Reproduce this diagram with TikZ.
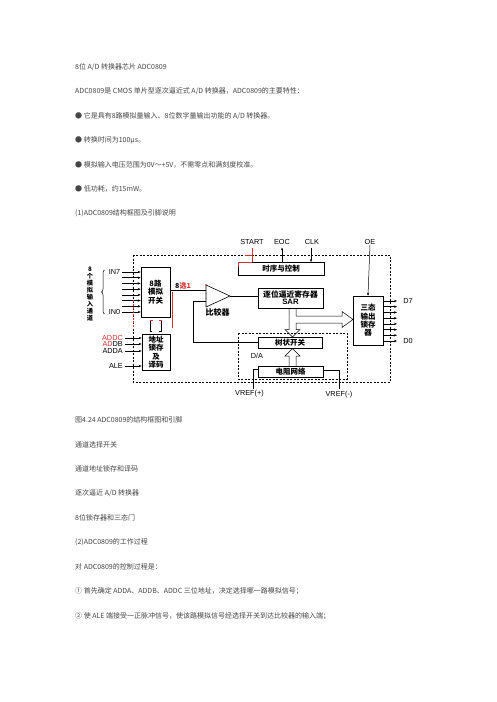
\documentclass[tikz,border=0pt]{standalone}
\usepackage{fontspec}
\setmainfont{Noto Sans CJK SC}
\newfontfamily\lsans{Liberation Sans}
\usetikzlibrary{arrows.meta,decorations.pathreplacing}
\definecolor{txt}{RGB}{70,70,70}
\definecolor{ann}{RGB}{215,50,50}
\begin{document}
\begin{tikzpicture}[x=1pt,y=-1pt,
  body/.style={anchor=west,inner sep=0,font=\fontsize{7}{8}\selectfont,text=txt},
  box/.style={draw,line width=0.6pt,inner sep=0,align=center,font=\fontsize{7.5}{8.3}\selectfont\bfseries},
  lab/.style={inner sep=0,font=\lsans\fontsize{7.3}{8}\selectfont},
  arr/.style={-{Stealth[length=3pt,width=2.4pt]},line width=0.5pt},
  ln/.style={line width=0.5pt},
  dbox/.style={dash pattern=on 2pt off 1.5pt,line width=0.6pt}]
\useasboundingbox[fill=white] (0,0) rectangle (496,702);

% ---------- body text, upper part ----------
\node[body] (t1) at (75,67) {8位 A/D 转换器芯片 ADC0809};
\node[body] (t2) at (75,91.5) {ADC0809是 CMOS 单片型逐次逼近式 A/D 转换器，ADC0809的主要特性：};
\node[body] (t3) at (75,116) {●\ 它是具有8路模拟量输入、8位数字量输出功能的 A/D 转换器。};
\node[body] (t4) at (75,140) {●\ 转换时间为100μs。};
\node[body] (t5) at (75,164.5) {●\ 模拟输入电压范围为0V～+5V，不需零点和满刻度校准。};
\node[body] (t6) at (75,189) {●\ 低功耗，约15mW。};
\node[body] (t7) at (75,213) {(1)ADC0809结构框图及引脚说明};

% ---------- diagram ----------
\draw[dbox] (133,255) rectangle (390,382);
\draw[dbox] (238,333) rectangle (347,379);

\node[box,minimum width=29pt,minimum height=50pt] (mux) at (155.5,292) {8路\\模拟\\开关};
\node[box,minimum width=28pt,minimum height=36pt] (addr) at (156,352) {地址\\锁存\\及\\译码};
\node[box,minimum width=86pt,minimum height=13pt] (ctl) at (281,268.5) {时序与控制};
\node[box,minimum width=65pt,minimum height=20pt,font=\fontsize{7.8}{8}\selectfont\bfseries] (sar) at (290.5,298) {逐位逼近寄存器\\[-1pt]{\lsans SAR}};
\node[box,minimum width=64pt,minimum height=11pt] (tree) at (290,342.5) {树状开关};
\node[box,minimum width=65pt,minimum height=11pt] (res) at (290.5,371.5) {电阻网络};
\node[box,minimum width=30pt,minimum height=49pt] (tri) at (368,320.5) {三态\\输出\\锁存\\器};

% comparator
\coordinate (cA) at (206,285);
\coordinate (cB) at (206,307);
\coordinate (cT) at (230,296);
\draw[line width=0.6pt] (cA) -- (cT) -- (cB) -- cycle;
\fill[ann] (cA) circle (0.9pt);
\node[inner sep=0,font=\fontsize{8}{9}\selectfont\bfseries] (cmpl) at (217.5,312.5) {比较器};

% left inputs
\foreach \k in {0,...,7}{
  \draw[arr] (122,272+\k*5.714) -- (mux.west |- 0,272+\k*5.714);
}
\node[lab] (in7) at (114.5,272) {IN7};
\node[lab] (in0) at (114.5,312) {IN0};
\draw[line width=0.5pt,decorate,decoration={brace,amplitude=3pt}] (104.5,314) -- (104.5,270);
\foreach \c [count=\i from 0] in {8,个,模,拟,输,入,通,道}{
  \node[inner sep=0,font=\fontsize{6.2}{6}\selectfont\bfseries] (v\i) at (90,269+\i*7) {\c};
}

% mux -> comparator
\draw[ln] (mux.east |- 0,290) -- (cA |- 0,290);
\node[inner sep=0,font=\fontsize{7}{8}\selectfont\bfseries] (sel) at (183,286) {8{\color{ann}选1}};
\draw[ann,line width=0.5pt] (172,292) -- (172,328);
\draw[ann,dbox] (133,300) -- (133,328);

% mux <-> addr bus marks
\draw[ln] (152,320) -- (150,320) -- (150,331) -- (152,331);
\draw[ln] (159,320) -- (161,320) -- (161,331) -- (159,331);
\draw[ann,line width=0.6pt] (150,320) -- (152.5,320) (159,320) -- (161.5,320);

% address inputs
\node[lab,anchor=east,text=ann] (addc) at (123,338) {ADDC};
\node[lab,anchor=east] (addb) at (123,344) {{\color{ann}AD}DB};
\node[lab,anchor=east] (adda) at (123,351) {ADDA};
\node[lab,anchor=east] (ale) at (123,366) {ALE};
\foreach \n in {addc,addb,adda,ale}{
  \draw[arr] ([xshift=2pt]\n.east) -- (addr.west |- \n.east);
}

% comparator -> SAR, feedback
\draw[ln] (cT) -- (sar.west |- cT);
\draw[ln] (tree.west) -- (193,342.5) -- (193,301) -- (cA |- 0,301);

% top signals
\node[lab] (start) at (252,242) {START};
\node[lab] (eoc) at (282,242) {EOC};
\node[lab] (clk) at (312,242) {CLK};
\node[lab] (oe) at (370,242) {OE};
\draw[ann,line width=0.6pt] (252,247.5) -- (252,262);
\draw[ann,line width=0.6pt] (245,255) -- (253,255);
\draw[ann,line width=0.7pt] (238,267) -- (238,262) -- (252,262);
\draw[arr] (282,262) -- (282,247.5);
\draw[arr] (311,247.5) -- (311,262);
\draw[arr] (oe.south) -- (tri.north);

% hollow bus arrows
\draw[ln] (289,308) -- (289,329.5) -- (285,329.5) -- (292.5,337) -- (300,329.5) -- (296,329.5)
  -- (296,323) -- (342,323) -- (342,327.5) -- (353,319.5) -- (342,311.5) -- (342,316) -- (296,316) -- (296,308);
\draw[ln] (289,366) -- (289,356) -- (285,356) -- (292.5,348.5) -- (300,356) -- (296,356) -- (296,366);

% outputs
\foreach \k in {0,...,7}{
  \draw[arr] (tri.east |- 0,301+\k*5.714) -- (397,301+\k*5.714);
}
\node[lab] (d7) at (408,301) {D7};
\node[lab] (d0) at (408,341) {D0};

% D/A and references
\node[lab] (da) at (257,356) {D/A};
\node[lab] (vrp) at (249.5,394) {VREF(+)};
\node[lab] (vrm) at (339,395) {VREF(-)};
\draw[ln] (res.west |- 0,369) -- (253,369) -- (253,389);
\draw[ln] (res.east |- 0,370) -- (339,370) -- (339,389);

% ---------- body text, lower part ----------
\node[body] (c1) at (75,420) {图4.24 ADC0809的结构框图和引脚};
\node[body] (c2) at (75,444.5) {通道选择开关};
\node[body] (c3) at (75,469) {通道地址锁存和译码};
\node[body] (c4) at (75,493.5) {逐次逼近 A/D 转换器};
\node[body] (c5) at (75,518) {8位锁存器和三态门};
\node[body] (c6) at (75,542.5) {(2)ADC0809的工作过程};
\node[body] (c7) at (75,567) {对 ADC0809的控制过程是：};
\node[body] (c8) at (75,591.5) {①\ 首先确定 ADDA、ADDB、ADDC 三位地址，决定选择哪一路模拟信号；};
\node[body] (c9) at (75,616) {②\ 使 ALE 端接受一正脉冲信号，使该路模拟信号经选择开关到达比较器的输入端；};
\end{tikzpicture}
\end{document}
